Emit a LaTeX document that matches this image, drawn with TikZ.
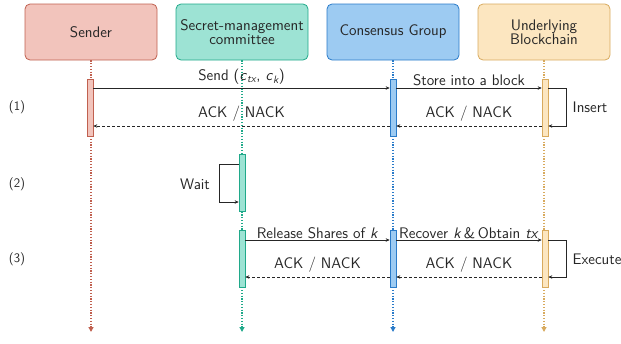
\documentclass[tikz,border=0pt]{standalone}
\usepackage{amsmath}
\usetikzlibrary{arrows.meta}
\definecolor{senfill}{HTML}{F2C4BC}
\definecolor{senline}{HTML}{C0604F}
\definecolor{secfill}{HTML}{9DE3D4}
\definecolor{secline}{HTML}{20A98A}
\definecolor{cgfill}{HTML}{9DCBF2}
\definecolor{cgline}{HTML}{2A7BC9}
\definecolor{bcfill}{HTML}{FCE6C0}
\definecolor{bcline}{HTML}{D8AA5E}
\definecolor{ink}{HTML}{262626}
\newcommand{\itx}[1]{\textit{#1}}
\begin{document}
\begin{tikzpicture}[x=1pt,y=-1pt,
  font=\fontsize{15.3}{17}\selectfont\sffamily,
  actor/.style={rounded corners=5pt, minimum width=132pt, minimum height=56pt,
    align=center, line width=0.8pt, text=ink, inner sep=2pt},
  actbar/.style={minimum width=6pt, minimum height=57pt, inner sep=0pt, line width=0.6pt},
  lifeline/.style={line width=1.3pt, dash pattern=on 1.2pt off 1.6pt,
    -{Triangle[length=5pt,width=5pt]}},
  msg/.style={draw=ink, line width=0.7pt, -{Stealth[length=4pt,width=3.5pt]}},
  reply/.style={msg, densely dashed},
  lbl/.style={text=ink, inner sep=1pt},
  steplbl/.style={text=ink, font=\fontsize{13}{15}\selectfont\sffamily}]
\useasboundingbox (0,0) rectangle (621,343);

% participants
\node[actor, fill=senfill, draw=senline] (snd) at (91,32) {Sender};
\node[actor, fill=secfill, draw=secline] (smc) at (242,32) {Secret-management\\[-3pt]committee};
\node[actor, fill=cgfill, draw=cgline] (cg) at (393,32) {Consensus Group};
\node[actor, fill=bcfill, draw=bcline] (bc) at (544,32) {Underlying\\[-3pt]Blockchain};

% lifelines
\coordinate (bottom) at (0,332);
\draw[lifeline, senline] (snd.south) -- (snd.south |- bottom);
\draw[lifeline, secline] (smc.south) -- (smc.south |- bottom);
\draw[lifeline, cgline] (cg.south) -- (cg.south |- bottom);
\draw[lifeline, bcline] (bc.south) -- (bc.south |- bottom);

% activation bars
\node[actbar, fill=senfill, draw=senline] (snd1) at (90,107.5) {};
\node[actbar, fill=cgfill, draw=cgline] (cg1) at (393,107.5) {};
\node[actbar, fill=bcfill, draw=bcline] (bc1) at (545,107.5) {};
\node[actbar, fill=secfill, draw=secline] (smc2) at (242,183) {};
\node[actbar, fill=secfill, draw=secline] (smc3) at (242,258.5) {};
\node[actbar, fill=cgfill, draw=cgline] (cg3) at (393,258.5) {};
\node[actbar, fill=bcfill, draw=bcline] (bc3) at (545,258.5) {};

% message rows
\coordinate (r1) at (0,88);
\coordinate (r2) at (0,126);
\coordinate (w1) at (0,164);
\coordinate (w2) at (0,202);
\coordinate (r3) at (0,240);
\coordinate (r4) at (0,277);

% phase (1)
\draw[msg] (snd1.east |- r1) -- node[lbl, above=2pt] (sendl) {Send (\itx{c}$_{\itx{tx}}$, \itx{c}$_{\itx{k}}$)} (cg1.west |- r1);
\draw[msg] (cg1.east |- r1) -- node[lbl, above=1pt] (storel) {Store into a block} (bc1.west |- r1);
\draw[msg] (bc1.east |- r1) -- ++(18,0) |- (bc1.east |- r2);
\node[lbl] (insl) at (590,107) {Insert};
\draw[reply] (cg1.west |- r2) -- node[lbl, above=3pt] (ack1) {ACK / NACK} (snd1.east |- r2);
\draw[reply] (bc1.west |- r2) -- node[lbl, above=3pt] (ack2) {ACK / NACK} (cg1.east |- r2);

% phase (2)
\draw[msg] (smc2.west |- w1) -- ++(-19,0) |- (smc2.west |- w2);
\node[lbl] (waitl) at (195,184) {Wait};

% phase (3)
\draw[msg] (smc3.east |- r3) -- node[lbl, above=0pt] (rell) {Release Shares of \itx{k}} (cg3.west |- r3);
\draw[msg] (cg3.east |- r3) -- node[lbl, above=0pt] (recl) {Recover \itx{k}\,\&\,Obtain \itx{tx}} (bc3.west |- r3);
\draw[msg] (bc3.east |- r3) -- ++(18,0) |- (bc3.east |- r4);
\node[lbl] (exel) at (597,259) {Execute};
\draw[reply] (cg3.west |- r4) -- node[lbl, above=3pt] (ack3) {ACK / NACK} (smc3.east |- r4);
\draw[reply] (bc3.west |- r4) -- node[lbl, above=3pt] (ack4) {ACK / NACK} (cg3.east |- r4);

% phase markers
\node[steplbl] (p1) at (17,107) {(1)};
\node[steplbl] (p2) at (17,184) {(2)};
\node[steplbl] (p3) at (17,259) {(3)};
\end{tikzpicture}
\end{document}
